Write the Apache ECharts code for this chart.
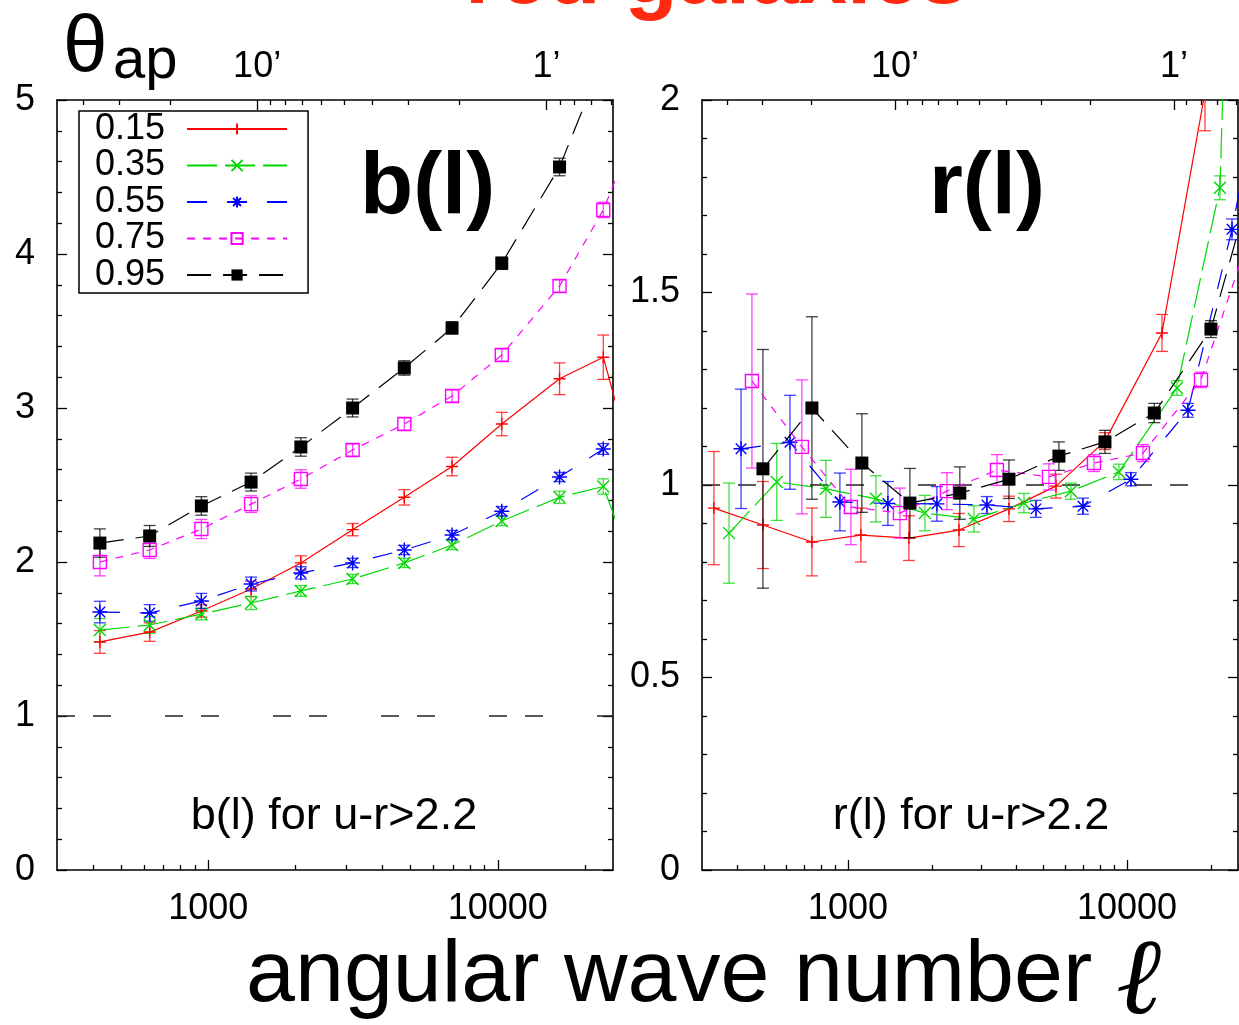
<!DOCTYPE html>
<html>
<head>
<meta charset="utf-8">
<title>red galaxies - b(l) and r(l)</title>
<script src="https://cdn.jsdelivr.net/npm/echarts@6/dist/echarts.min.js"></script>
<style>
html, body { margin: 0; padding: 0; background: #fff; }
#chart { width: 1239px; height: 1025px; }
</style>
</head>
<body>
<div id="chart"></div>
<script>
// redshift bins (legend)
var zNames = ["0.15", "0.35", "0.55", "0.75", "0.95"];

// left panel: bias b(l)
var bEll = [422, 627, 946, 1405, 2087, 3150, 4753, 6950, 10320, 16340, 23140, 34630];
var b015 = [1.481, 1.545, 1.682, 1.825, 1.994, 2.21, 2.42, 2.62, 2.896, 3.19, 3.33, 2.13];
var b015e = [0.074, 0.06, 0.04, 0.05, 0.046, 0.04, 0.05, 0.06, 0.076, 0.103, 0.144, 0];
var b035 = [1.558, 1.591, 1.662, 1.734, 1.812, 1.89, 1.994, 2.11, 2.266, 2.42, 2.49, 1.6];
var b035e = [0.075, 0.054, 0.038, 0.043, 0.035, 0.03, 0.03, 0.03, 0.03, 0.04, 0.05, 0];
var b055 = [1.675, 1.669, 1.747, 1.857, 1.929, 1.994, 2.078, 2.175, 2.33, 2.552, 2.734];
var b055e = [0.07, 0.054, 0.049, 0.045, 0.04, 0.03, 0.03, 0.03, 0.03, 0.03, 0.035];
var b075 = [2.0, 2.078, 2.214, 2.376, 2.539, 2.727, 2.896, 3.078, 3.344, 3.792, 4.286, 5.1];
var b075e = [0.09, 0.055, 0.062, 0.054, 0.06, 0.04, 0.04, 0.04, 0.04, 0.04, 0.05, 0];
var b095 = [2.123, 2.169, 2.364, 2.519, 2.747, 3.0, 3.26, 3.52, 3.94, 4.565, 5.27];
var b095e = [0.092, 0.068, 0.06, 0.058, 0.06, 0.058, 0.047, 0.04, 0.04, 0.057, 0.06];

// right panel: correlation r(l)
var rEll015 = [331, 496, 743, 1113, 1654, 2500, 3777, 5566, 8340, 13350, 19040];
var r015 = [0.940, 0.896, 0.852, 0.870, 0.862, 0.883, 0.938, 0.997, 1.114, 1.395, 2.02];
var r015e = [0.147, 0.113, 0.088, 0.07, 0.058, 0.043, 0.033, 0.031, 0.022, 0.048, 0.1];
var rEll035 = [375, 556, 834, 1260, 1888, 2829, 4274, 6300, 9360, 15110, 21540, 32300];
var r035 = [0.875, 1.008, 0.99, 0.964, 0.927, 0.912, 0.953, 0.984, 1.034, 1.252, 1.772, 6];
var r035e = [0.13, 0.10, 0.074, 0.06, 0.046, 0.034, 0.025, 0.021, 0.02, 0.019, 0.031, 0];
var rEll055 = [414, 620, 936, 1391, 2084, 3149, 4719, 6956, 10330, 16540, 23790, 35100];
var r055 = [1.094, 1.111, 0.956, 0.952, 0.951, 0.948, 0.938, 0.945, 1.015, 1.194, 1.664, 2.3];
var r055e = [0.155, 0.122, 0.075, 0.057, 0.045, 0.022, 0.022, 0.021, 0.017, 0.018, 0.027, 0];
var rEll075 = [453, 684, 1025, 1536, 2264, 3420, 5253, 7616, 11410, 18420, 27820];
var r075 = [1.270, 1.099, 0.943, 0.927, 0.984, 1.039, 1.021, 1.057, 1.083, 1.273, 1.66];
var r075e = [0.226, 0.174, 0.098, 0.065, 0.048, 0.04, 0.034, 0.022, 0.022, 0.02, 0];
var rEll095 = [496, 743, 1122, 1668, 2518, 3777, 5703, 8340, 12530, 20000, 30200];
var r095 = [1.042, 1.200, 1.057, 0.953, 0.979, 1.015, 1.075, 1.112, 1.187, 1.405, 1.87];
var r095e = [0.31, 0.237, 0.128, 0.09, 0.068, 0.05, 0.037, 0.03, 0.025, 0.022, 0];

// axes
var ellMin = 300, ellMax = 25000;
var ellMajor = [1000, 10000];
var ellMinor = [400, 500, 600, 700, 800, 900, 2000, 3000, 4000, 5000, 6000, 7000, 8000, 9000, 20000];
var thetaScale = 14740; // theta[arcmin] = thetaScale / l
var thetaMajor = [10, 1];
var thetaMinor = [40, 30, 20, 9, 8, 7, 6, 5, 4, 3, 2, 0.9, 0.8, 0.7, 0.6];
var unityLine = [[ellMin, 1], [ellMax, 1]];

// styles
var zColors = ["#ff0000", "#00d800", "#0000ff", "#ff00ff", "#000000"];
var zDash = ["solid", [30, 8], [20, 20], [8, 8], [24, 12]];
var zSymbols = [
    "path://M0,5L10,5M5,0L5,10",
    "path://M0,0L10,10M10,0L0,10",
    "path://M0,5L10,5M5,0L5,10M1.5,1.5L8.5,8.5M8.5,1.5L1.5,8.5",
    "rect",
    "rect"
];
var zSymbolSize = [12, 12, 15, 13, 13];
var zFill = ["rgba(0,0,0,0)", "rgba(0,0,0,0)", "rgba(0,0,0,0)", "rgba(0,0,0,0)", "#000"];
var FONT = "'Liberation Sans', Helvetica, Arial, sans-serif";

var chart = echarts.init(document.getElementById("chart"), null, {renderer: "canvas"});

function log10s(arr) {
    return arr.map(function (v) { return Math.log10(v); });
}
function thetaPos(arr) {
    return arr.map(function (t) { return Math.log10(thetaScale / t); });
}

function zip3(xs, ys, es) {
    var out = [];
    for (var i = 0; i < ys.length; i++) {
        out.push([xs[i], ys[i], es[i]]);
    }
    return out;
}

function errorBarItem(color) {
    return function (params, api) {
        var x = api.value(0), y = api.value(1), e = api.value(2);
        if (!(e > 0)) {
            return null;
        }
        var lo = api.coord([x, y - e]);
        var hi = api.coord([x, y + e]);
        var w = 6;
        var st = {stroke: color, lineWidth: 1.3, opacity: 0.75};
        var cs = params.coordSys;
        return {
            type: "group",
            clipPath: {type: "rect", shape: {x: cs.x, y: cs.y, width: cs.width, height: cs.height}},
            children: [
                {type: "line", shape: {x1: lo[0], y1: lo[1], x2: hi[0], y2: hi[1]}, style: st},
                {type: "line", shape: {x1: lo[0] - w, y1: lo[1], x2: lo[0] + w, y2: lo[1]}, style: st},
                {type: "line", shape: {x1: hi[0] - w, y1: hi[1], x2: hi[0] + w, y2: hi[1]}, style: st}
            ]
        };
    };
}

var panels = [
    {xIdx: 0, yIdx: 0, sets: [[bEll, b015, b015e], [bEll, b035, b035e], [bEll, b055, b055e], [bEll, b075, b075e], [bEll, b095, b095e]]},
    {xIdx: 1, yIdx: 2, sets: [[rEll015, r015, r015e], [rEll035, r035, r035e], [rEll055, r055, r055e], [rEll075, r075, r075e], [rEll095, r095, r095e]]}
];

var series = [];
panels.forEach(function (p) {
    series.push({
        type: "line", name: "unity", xAxisIndex: p.xIdx, yAxisIndex: p.yIdx,
        data: unityLine, symbol: "none", silent: true, z: 1,
        lineStyle: {color: "#222", width: 1.4, type: [18, 18, 18, 54]}
    });
    p.sets.forEach(function (s, i) {
        var data = zip3(s[0], s[1], s[2]);
        series.push({
            type: "custom", name: "err" + zNames[i], xAxisIndex: p.xIdx, yAxisIndex: p.yIdx,
            data: data, encode: {x: 0, y: 1}, renderItem: errorBarItem(zColors[i]),
            silent: true, z: 2 + i
        });
        series.push({
            type: "line", name: zNames[i], xAxisIndex: p.xIdx, yAxisIndex: p.yIdx,
            data: data.map(function (d) { return [d[0], d[1]]; }),
            symbol: zSymbols[i], symbolSize: zSymbolSize[i], showAllSymbol: true, clip: true,
            lineStyle: {color: zColors[i], width: 1.2, type: zDash[i]},
            itemStyle: {color: zFill[i], borderColor: zColors[i], borderWidth: i === 4 ? 0 : 1.4},
            emphasis: {disabled: true}, z: 3 + i
        });
    });
});

var axisLineStyle = {color: "#000", width: 1.6};
var tickStyle = {color: "#000", width: 1.3};

function dataXAxis(gridIndex) {
    return {type: "log", logBase: 10, gridIndex: gridIndex, min: ellMin, max: ellMax, show: false};
}
function decoXAxis(gridIndex, position, ticks, len, labels, fmt, showLine) {
    return {
        type: "value", gridIndex: gridIndex, position: position,
        min: Math.log10(ellMin), max: Math.log10(ellMax),
        axisLine: {show: showLine, onZero: false, lineStyle: axisLineStyle},
        axisTick: {show: true, inside: true, length: len, customValues: ticks, lineStyle: tickStyle},
        axisLabel: labels ? {
            show: true, customValues: labels, formatter: fmt, margin: position === "top" ? 15 : 21,
            fontSize: 36, color: "#000", fontFamily: FONT
        } : {show: false},
        splitLine: {show: false}
    };
}
function ellLabel(v) {
    return String(Math.round(Math.pow(10, v)));
}
function thetaLabel(v) {
    return Math.round(thetaScale / Math.pow(10, v)) + "\u2019";
}
function yAxis(gridIndex, position, max, interval, labels) {
    return {
        type: "value", gridIndex: gridIndex, position: position, min: 0, max: max, interval: interval,
        axisLine: {show: true, onZero: false, lineStyle: axisLineStyle},
        axisTick: {show: true, inside: true, length: 10, lineStyle: tickStyle},
        minorTick: {show: true, splitNumber: 5, length: 5, lineStyle: tickStyle},
        axisLabel: labels ? {show: true, margin: 22, fontSize: 36, color: "#000", fontFamily: FONT} : {show: false},
        splitLine: {show: false}
    };
}

var xAxes = [dataXAxis(0), dataXAxis(1)];
[0, 1].forEach(function (g) {
    xAxes.push(decoXAxis(g, "bottom", log10s(ellMajor), 10, log10s(ellMajor), ellLabel, true));
    xAxes.push(decoXAxis(g, "bottom", log10s(ellMinor), 5, null, null, false));
    xAxes.push(decoXAxis(g, "top", thetaPos(thetaMajor), 10, thetaPos(thetaMajor), thetaLabel, true));
    xAxes.push(decoXAxis(g, "top", thetaPos(thetaMinor), 5, null, null, false));
});

var option = {
    animation: false,
    backgroundColor: "#fff",
    textStyle: {fontFamily: FONT},
    grid: [
        {left: 57, top: 100, width: 556, height: 770, outerBoundsMode: "none"},
        {left: 702, top: 100, width: 536, height: 770, outerBoundsMode: "none"}
    ],
    xAxis: xAxes,
    yAxis: [
        yAxis(0, "left", 5, 1, true),
        yAxis(0, "right", 5, 1, false),
        yAxis(1, "left", 2, 0.5, true),
        yAxis(1, "right", 2, 0.5, false)
    ],
    legend: {
        data: zNames, orient: "vertical", left: 79, top: 111, align: "right",
        itemWidth: 100, itemHeight: 14, itemGap: 0.5, padding: [0, 20, 0, 16],
        borderColor: "#000", borderWidth: 1.5, backgroundColor: "#fff",
        selectedMode: false,
        textStyle: {fontSize: 36, lineHeight: 36, color: "#000", fontFamily: FONT, padding: [0, 17, 0, 0]}
    },
    graphic: [
        {type: "text", x: 465, y: -21, z: 100, style: {text: "red galaxies", font: "bold 87px " + FONT, fill: "#ff2a10", verticalAlign: "middle"}},
        {type: "text", x: 63, y: 49, z: 100, style: {text: "\u03b8", font: "80px " + FONT, fill: "#000", verticalAlign: "middle"}},
        {type: "text", x: 113, y: 62, z: 100, style: {text: "ap", font: "58px " + FONT, fill: "#000", verticalAlign: "middle"}},
        {type: "text", x: 360, y: 189, z: 100, style: {text: "b(l)", font: "bold 87px " + FONT, fill: "#000", verticalAlign: "middle"}},
        {type: "text", x: 929, y: 189, z: 100, style: {text: "r(l)", font: "bold 87px " + FONT, fill: "#000", verticalAlign: "middle"}},
        {type: "text", x: 334, y: 817, z: 100, style: {text: "b(l) for u-r>2.2", font: "45px " + FONT, fill: "#000", align: "center", verticalAlign: "middle"}},
        {type: "text", x: 971, y: 817, z: 100, style: {text: "r(l) for u-r>2.2", font: "45px " + FONT, fill: "#000", align: "center", verticalAlign: "middle"}},
        {type: "text", x: 246, y: 977, z: 100, style: {text: "angular wave number", font: "88px " + FONT, fill: "#000", verticalAlign: "middle"}},
        {type: "text", x: 1116, y: 985, z: 100, style: {text: "\u2113", font: "italic 108px 'DejaVu Serif', serif", fill: "#000", verticalAlign: "middle"}}
    ],
    series: series
};

chart.setOption(option);
</script>
</body>
</html>
